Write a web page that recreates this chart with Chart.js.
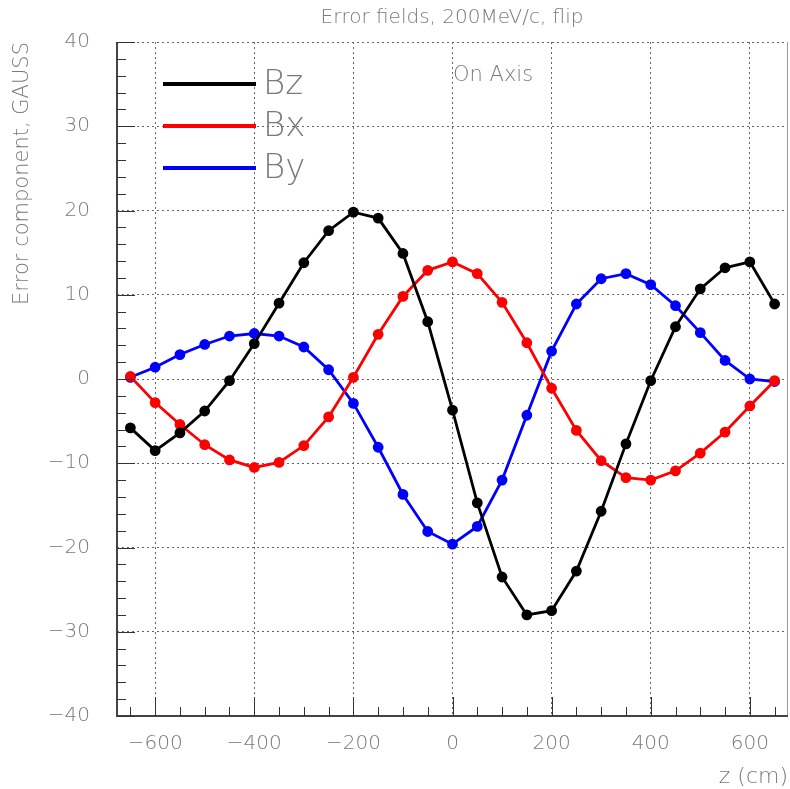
<!DOCTYPE html>
<html>
<head>
<meta charset="utf-8">
<script src="https://cdn.jsdelivr.net/npm/chart.js@4.4.1/dist/chart.umd.min.js"></script>
<style>
  html, body { margin: 0; padding: 0; background: #fff; }
  #chart { display: block; }
</style>
</head>
<body>
<canvas id="chart" width="790" height="789"></canvas>
<script>
// z positions along the axis (cm)
const zPos = [-650, -600, -550, -500, -450, -400, -350, -300, -250, -200, -150, -100, -50,
              0, 50, 100, 150, 200, 250, 300, 350, 400, 450, 500, 550, 600, 650];

// error field components (GAUSS)
const bz = [-5.8, -8.5, -6.4, -3.8, -0.2, 4.2, 9.0, 13.8, 17.6, 19.8, 19.1, 14.9, 6.8,
            -3.7, -14.7, -23.5, -28.0, -27.5, -22.8, -15.7, -7.7, -0.2, 6.2, 10.7, 13.2, 13.9, 8.9];
const bx = [0.3, -2.8, -5.4, -7.8, -9.6, -10.5, -9.9, -7.9, -4.5, 0.2, 5.3, 9.8, 12.9,
            13.9, 12.5, 9.1, 4.3, -1.1, -6.1, -9.7, -11.7, -12.0, -10.9, -8.8, -6.3, -3.2, -0.2];
const by = [0.2, 1.4, 2.9, 4.1, 5.1, 5.4, 5.1, 3.8, 1.1, -2.9, -8.1, -13.7, -18.1,
            -19.6, -17.5, -12.0, -4.3, 3.3, 8.9, 11.9, 12.5, 11.2, 8.7, 5.5, 2.2, 0.0, -0.3];

const seriesNames = ['Bz', 'Bx', 'By'];
const seriesColors = ['#000000', '#ff0000', '#0000ff'];

const xTicks = [-600, -400, -200, 0, 200, 400, 600];
const yTicks = [-40, -30, -20, -10, 0, 10, 20, 30, 40];

const textGray = '#7a7a7a';
const fontFam = '"DejaVu Sans", sans-serif';

function toPoints(ys) {
    return zPos.map((z, i) => ({ x: z, y: ys[i] }));
}

// Draws the frame, inside ticks, legend and all the loose texts
const decorations = {
    id: 'decorations',
    afterDraw(chart) {
        const ctx = chart.ctx;
        const a = chart.chartArea;
        const xs = chart.scales.x;
        const ys = chart.scales.y;
        ctx.save();

        // frame
        ctx.strokeStyle = '#999';
        ctx.lineWidth = 1;
        ctx.beginPath();
        ctx.moveTo(a.right - 0.5, a.top);
        ctx.lineTo(a.right - 0.5, a.bottom);
        ctx.stroke();
        ctx.strokeStyle = '#444';
        ctx.lineWidth = 2;
        ctx.beginPath();
        ctx.moveTo(a.left, a.top);
        ctx.lineTo(a.left, a.bottom);
        ctx.lineTo(a.right, a.bottom);
        ctx.stroke();

        // inside ticks on x
        ctx.lineWidth = 1;
        ctx.strokeStyle = '#333';
        for (let v = -650; v <= 650; v += 50) {
            const px = Math.round(xs.getPixelForValue(v)) + 0.5;
            const len = (v % 200 === 0) ? 19 : 9;
            ctx.beginPath();
            ctx.moveTo(px, a.bottom);
            ctx.lineTo(px, a.bottom - len);
            ctx.stroke();
        }
        // inside ticks on y
        for (let v = -40; v <= 40; v += 2) {
            const py = Math.round(ys.getPixelForValue(v)) + 0.5;
            const len = (v % 10 === 0) ? 18 : 9;
            ctx.beginPath();
            ctx.moveTo(a.left, py);
            ctx.lineTo(a.left + len, py);
            ctx.stroke();
        }

        // legend
        const legY = [84, 126, 168];
        chart.data.datasets.forEach((ds, i) => {
            ctx.strokeStyle = ds.borderColor;
            ctx.lineWidth = 4;
            ctx.beginPath();
            ctx.moveTo(163, legY[i]);
            ctx.lineTo(256, legY[i]);
            ctx.stroke();
            ctx.fillStyle = textGray;
            ctx.font = '200 34px ' + fontFam;
            ctx.textAlign = 'left';
            ctx.textBaseline = 'middle';
            ctx.fillText(ds.label, 263, legY[i] + 1);
        });

        ctx.fillStyle = textGray;
        ctx.textBaseline = 'middle';

        // "On Axis"
        ctx.font = '200 21px ' + fontFam;
        ctx.textAlign = 'left';
        ctx.fillText('On Axis', 453, 76);

        // title
        ctx.font = '200 20px ' + fontFam;
        ctx.textAlign = 'center';
        ctx.fillText('Error fields, 200MeV/c, flip', 452, 18);

        // x axis title
        ctx.font = '200 22px ' + fontFam;
        ctx.textAlign = 'right';
        ctx.fillText('z (cm)', 788, 777);

        // y axis title
        ctx.save();
        ctx.translate(23, a.top);
        ctx.rotate(-Math.PI / 2);
        ctx.font = '200 21px ' + fontFam;
        ctx.textAlign = 'right';
        ctx.fillText('Error component, GAUSS', 0, 0);
        ctx.restore();

        ctx.restore();
    }
};

const ctx = document.getElementById('chart');
const myChart = new Chart(ctx, {
    type: 'line',
    data: {
        datasets: seriesNames.map((name, i) => ({
            label: name,
            data: toPoints([bz, bx, by][i]),
            borderColor: seriesColors[i],
            backgroundColor: seriesColors[i],
            borderWidth: 2.8,
            pointRadius: 4,
            pointHoverRadius: 4,
            tension: 0
        }))
    },
    options: {
        responsive: false,
        animation: false,
        devicePixelRatio: 1,
        layout: { autoPadding: false, padding: { top: 42, right: 2, left: 0, bottom: 0 } },
        plugins: {
            legend: { display: false },
            tooltip: { enabled: false },
            title: { display: false }
        },
        scales: {
            x: {
                type: 'linear',
                min: -677,
                max: 677,
                afterBuildTicks: (scale) => { scale.ticks = xTicks.map(v => ({ value: v })); },
                afterFit: (scale) => {
                    scale.height = 73;
                    scale.paddingLeft = 0;
                    scale.paddingRight = 0;
                },
                grid: { color: '#666', lineWidth: 1, drawTicks: false },
                border: { display: false, dash: [2, 3] },
                ticks: {
                    color: textGray,
                    padding: 16,
                    maxRotation: 0,
                    font: { family: fontFam, size: 20, weight: 200 },
                    callback: (v) => String(v).replace('-', '\u2212')
                }
            },
            y: {
                type: 'linear',
                min: -40,
                max: 40,
                afterBuildTicks: (scale) => { scale.ticks = yTicks.map(v => ({ value: v })); },
                afterFit: (scale) => {
                    scale.width = 117;
                    scale.paddingTop = 0;
                    scale.paddingBottom = 0;
                },
                grid: { color: '#666', lineWidth: 1, drawTicks: false },
                border: { display: false, dash: [2, 3] },
                ticks: {
                    color: textGray,
                    padding: 27,
                    font: { family: fontFam, size: 20, weight: 200 },
                    callback: (v) => String(v).replace('-', '\u2212')
                }
            }
        }
    },
    plugins: [decorations]
});
</script>
</body>
</html>
